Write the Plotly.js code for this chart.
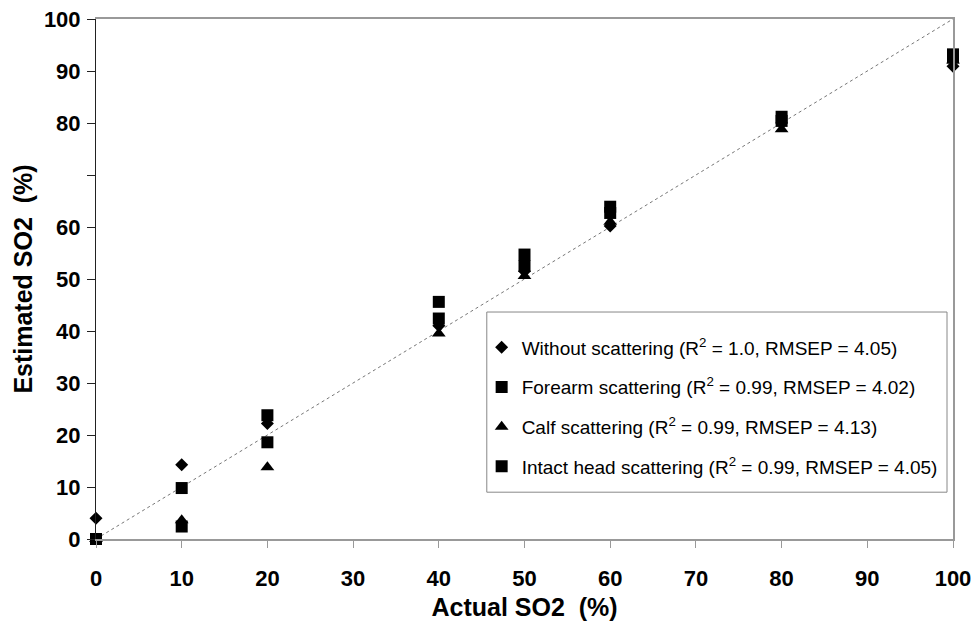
<!DOCTYPE html>
<html>
<head>
<meta charset="utf-8">
<script src="https://cdn.plot.ly/plotly-3.0.1.min.js"></script>
<style>html,body{margin:0;padding:0;background:#fff;}#chart{width:979px;height:624px;}</style>
</head>
<body>
<div id="chart"></div>
<script>
const actual = [0, 10, 20, 40, 50, 60, 80, 100];
const withoutScattering = [4.0, 14.3, 22.2, 41.0, 51.5, 60.2, 80.0, 90.9];
const forearmScattering = [0.0, 9.8, 18.6, 42.4, 52.5, 62.7, 80.4, 92.6];
const calfScattering = [0.0, 3.6, 13.8, 39.5, 50.6, 61.0, 78.8, 92.0];
const intactHeadScattering = [0.0, 2.4, 23.8, 45.6, 54.7, 63.9, 81.2, 93.2];
const identityLine = [0, 100];
const seriesNames = [
  'Without scattering (R<sup>2</sup> = 1.0, RMSEP = 4.05)',
  'Forearm scattering (R<sup>2</sup> = 0.99, RMSEP = 4.02)',
  'Calf scattering (R<sup>2</sup> = 0.99, RMSEP = 4.13)',
  'Intact head scattering (R<sup>2</sup> = 0.99, RMSEP = 4.05)'
];
const xTickVals = [0,10,20,30,40,50,60,70,80,90,100];
const xTickText = ['0','10','20','30','40','50','60','70','80','90','100'];
const yTickVals = [0,10,20,30,40,50,60,70,80,90,100];
const yTickText = ['0','10','20','30','40','50','60','','80','90','100'];
const xTitle = 'Actual SO2\u00A0\u00A0(%)';
const yTitle = 'Estimated SO2\u00A0\u00A0(%)';

const font = 'Liberation Sans, Arial, sans-serif';

const traces = [
  {x: identityLine, y: identityLine, mode: 'lines', showlegend: false, hoverinfo: 'skip',
   line: {color: '#777', width: 1, dash: 'dot'}},
  {x: actual, y: withoutScattering, name: seriesNames[0], legendgroup: 'a', legendrank: 1, mode: 'markers', cliponaxis: false,
   marker: {symbol: 'diamond', size: 10, color: '#000'}},
  {x: actual, y: calfScattering, name: seriesNames[2], legendgroup: 'c', legendrank: 3, mode: 'markers', cliponaxis: false,
   marker: {symbol: 'triangle-up', size: 12, color: '#000'}},
  {x: actual, y: forearmScattering, name: seriesNames[1], legendgroup: 'b', legendrank: 2, mode: 'markers', cliponaxis: false,
   marker: {symbol: 'square', size: 12, color: '#000'}},
  {x: actual, y: intactHeadScattering, name: seriesNames[3], legendgroup: 'd', legendrank: 4, mode: 'markers', cliponaxis: false,
   marker: {symbol: 'square', size: 12, color: '#000'}},
  {x: identityLine, y: identityLine, yaxis: 'y2', mode: 'lines', showlegend: false, hoverinfo: 'skip',
   line: {color: 'rgba(0,0,0,0)', width: 0}}
];

const layout = {
  width: 979, height: 624,
  margin: {l: 96, r: 26, t: 19, b: 85},
  paper_bgcolor: '#fff', plot_bgcolor: '#fff',
  font: {family: font, color: '#000'},
  xaxis: {
    range: [0, 100], tickvals: xTickVals, ticktext: xTickText,
    showgrid: false, zeroline: false,
    showline: true, linecolor: '#999', linewidth: 2, mirror: true,
    ticks: 'outside', ticklen: 7, tickcolor: '#999', tickwidth: 1,
    ticklabelstandoff: 12,
    tickfont: {family: font, size: 22, color: '#000', weight: 'bold'},
    title: {text: xTitle, font: {family: font, size: 25, color: '#000', weight: 'bold'}, standoff: 8}
  },
  yaxis: {
    range: [0, 100], tickvals: yTickVals, ticktext: yTickText,
    showgrid: false, zeroline: false,
    showline: true, linecolor: '#222', linewidth: 1,
    ticks: 'outside', ticklen: 8, tickcolor: '#222', tickwidth: 1,
    ticklabelstandoff: 2,
    tickfont: {family: font, size: 22, color: '#000', weight: 'bold'},
    title: {text: yTitle, font: {family: font, size: 25, color: '#000', weight: 'bold'}, standoff: 4}
  },
  yaxis2: {
    range: [0, 100], overlaying: 'y', side: 'right',
    showgrid: false, zeroline: false, showticklabels: false, ticks: '',
    showline: true, linecolor: '#999', linewidth: 2
  },
  showlegend: true,
  legend: {
    x: 0.45, y: 0.405, xanchor: 'left', yanchor: 'top',
    bgcolor: 'rgba(0,0,0,0)', borderwidth: 0,
    traceorder: 'grouped', tracegroupgap: 12,
    font: {family: font, size: 19, color: '#000'},
    itemwidth: 30
  },
  shapes: [
    {type: 'rect', xref: 'paper', yref: 'paper', x0: 0.456, x1: 0.993, y0: 0.09, y1: 0.4365,
     line: {color: '#888', width: 1}, fillcolor: 'rgba(0,0,0,0)', layer: 'below'}
  ]
};

Plotly.newPlot('chart', traces, layout, {displayModeBar: false, staticPlot: true});
</script>
</body>
</html>
